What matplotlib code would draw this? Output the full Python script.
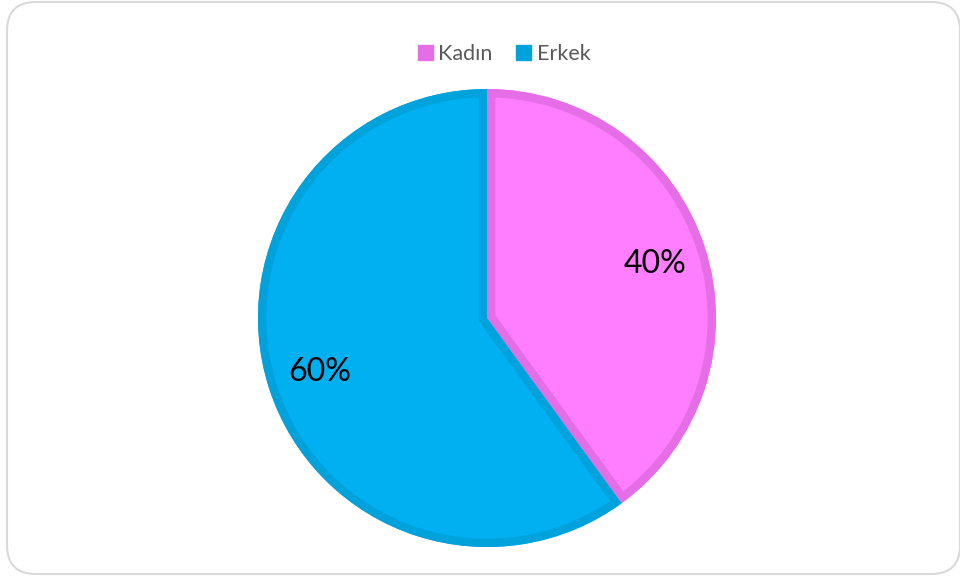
import matplotlib.pyplot as plt
from matplotlib.patches import FancyBboxPatch, Wedge

# data
labels = ['Kadın', 'Erkek']
values = [40, 60]
fill_colors = ['#FF7DFF', '#00B0F0']
edge_colors = ['#E56DE6', '#00A2DC']

W, H = 960, 578
fig = plt.figure(figsize=(W / 100, H / 100), dpi=100)

# rounded chart border
border = FancyBboxPatch((7 / W, 4 / H), 953 / W, 572 / H,
                        boxstyle='round,pad=0,rounding_size=0.03',
                        transform=fig.transFigure, facecolor='none',
                        edgecolor='#D9D9D9', linewidth=1.5, mutation_aspect=W / H)
fig.patches.append(border)

cx, cy, r = 487, 318, 229
ax = fig.add_axes([(cx - r) / W, (H - cy - r) / H, 2 * r / W, 2 * r / H])

wedges, texts, autotexts = ax.pie(values, colors=fill_colors, startangle=90,
                                  counterclock=False, autopct='%1.0f%%',
                                  pctdistance=0.77,
                                  textprops=dict(fontsize=23, color='black', family='Lato'))
# inner border: thick outline clipped to its own wedge
for w, ec in zip(wedges, edge_colors):
    w.set_linewidth(0)
    b = Wedge(w.center, w.r, w.theta1, w.theta2, facecolor='none',
              edgecolor=ec, linewidth=12, zorder=w.get_zorder() + 0.1)
    ax.add_patch(b)
    b.set_clip_path(w)
for t in autotexts:
    t.set_zorder(5)
ax.set_xlim(-1, 1)
ax.set_ylim(-1, 1)
ax.set_aspect('equal')

# legend
handles = [plt.Rectangle((0, 0), 1, 1, color=c) for c in edge_colors]
fig.legend(handles, labels, loc='center', bbox_to_anchor=(504 / W, 1 - 54 / H),
           ncol=2, frameon=False, handlelength=0.7, handleheight=0.7,
           handletextpad=0.25, columnspacing=1.1,
           prop=dict(family='Lato', size=15.5), labelcolor='#595959')

fig.savefig('out.png', dpi=100)
